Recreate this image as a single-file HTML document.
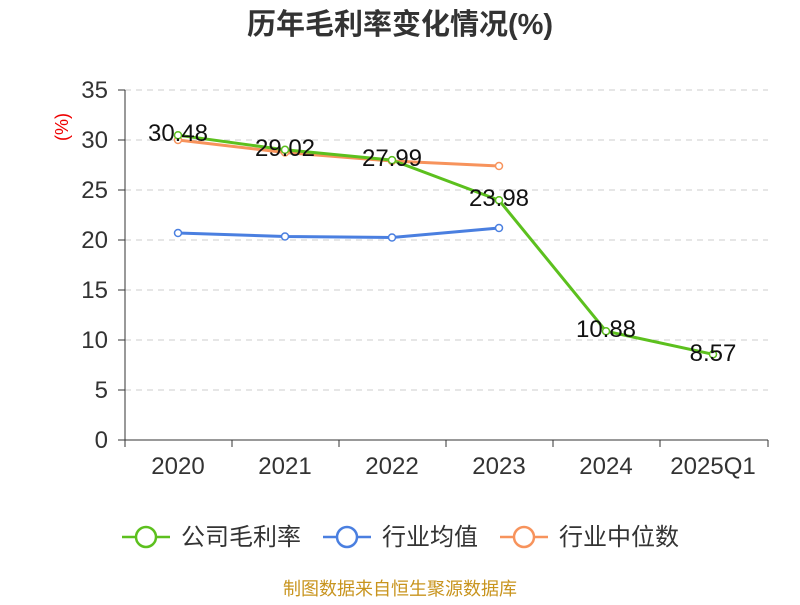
<!DOCTYPE html>
<html><head><meta charset="utf-8"><style>
body{margin:0;background:#fff;}
svg text{font-family:"Liberation Sans","Noto Sans CJK SC",sans-serif;}
</style></head><body>
<svg width="800" height="600" xmlns="http://www.w3.org/2000/svg">
<text x="400" y="34" text-anchor="middle" font-size="29" font-weight="bold" fill="#333">历年毛利率变化情况(%)</text>
<text x="68" y="127" font-size="18" fill="#e00" transform="rotate(-90 68 127)" text-anchor="middle">(%)</text>
<g stroke="#ccc" stroke-dasharray="6,5" stroke-width="1">
<line x1="125" y1="90" x2="768" y2="90"/><line x1="125" y1="140" x2="768" y2="140"/>
<line x1="125" y1="190" x2="768" y2="190"/><line x1="125" y1="240" x2="768" y2="240"/>
<line x1="125" y1="290" x2="768" y2="290"/><line x1="125" y1="340" x2="768" y2="340"/>
<line x1="125" y1="390" x2="768" y2="390"/>
</g>
<g stroke="#333" stroke-width="1">
<line x1="125" y1="90" x2="125" y2="440"/>
<line x1="125" y1="440" x2="768" y2="440"/>
<line x1="118" y1="90" x2="125" y2="90"/><line x1="118" y1="140" x2="125" y2="140"/>
<line x1="118" y1="190" x2="125" y2="190"/><line x1="118" y1="240" x2="125" y2="240"/>
<line x1="118" y1="290" x2="125" y2="290"/><line x1="118" y1="340" x2="125" y2="340"/>
<line x1="118" y1="390" x2="125" y2="390"/><line x1="118" y1="440" x2="125" y2="440"/>
<line x1="125" y1="440" x2="125" y2="447"/><line x1="232" y1="440" x2="232" y2="447"/>
<line x1="339" y1="440" x2="339" y2="447"/><line x1="446" y1="440" x2="446" y2="447"/>
<line x1="553" y1="440" x2="553" y2="447"/><line x1="660" y1="440" x2="660" y2="447"/>
<line x1="768" y1="440" x2="768" y2="447"/>
</g>
<g font-size="24" fill="#333" text-anchor="end">
<text x="108" y="98">35</text><text x="108" y="148">30</text><text x="108" y="198">25</text>
<text x="108" y="248">20</text><text x="108" y="298">15</text><text x="108" y="348">10</text>
<text x="108" y="398">5</text><text x="108" y="448">0</text>
</g>
<g font-size="24" fill="#333" text-anchor="middle">
<text x="178" y="474">2020</text><text x="285" y="474">2021</text><text x="392" y="474">2022</text>
<text x="499" y="474">2023</text><text x="606" y="474">2024</text><text x="713" y="474">2025Q1</text>
</g>
<polyline fill="none" stroke="#4a7fe0" stroke-width="3" points="178,233 285,236.5 392,237.5 499,228"/>
<polyline fill="none" stroke="#f7935c" stroke-width="3" points="178,140 285,152.5 392,161 499,166"/>
<polyline fill="none" stroke="#5cc01e" stroke-width="3" points="178,135.2 285,149.8 392,160.1 499,200.2 606,331.2 713,354.3"/>
<g fill="#fff" stroke-width="1.5">
<g stroke="#4a7fe0"><circle cx="178" cy="233" r="3.5"/><circle cx="285" cy="236.5" r="3.5"/><circle cx="392" cy="237.5" r="3.5"/><circle cx="499" cy="228" r="3.5"/></g>
<g stroke="#f7935c"><circle cx="178" cy="140" r="3.5"/><circle cx="285" cy="152.5" r="3.5"/><circle cx="392" cy="161" r="3.5"/><circle cx="499" cy="166" r="3.5"/></g>
<g stroke="#5cc01e"><circle cx="178" cy="135.2" r="3.5"/><circle cx="285" cy="149.8" r="3.5"/><circle cx="392" cy="160.1" r="3.5"/><circle cx="499" cy="200.2" r="3.5"/><circle cx="606" cy="331.2" r="3.5"/><circle cx="713" cy="354.3" r="3.5"/></g>
</g>
<g font-size="24" fill="#111" text-anchor="middle">
<text x="178" y="141">30.48</text><text x="285" y="156">29.02</text><text x="392" y="166">27.99</text>
<text x="499" y="206">23.98</text><text x="606" y="337">10.88</text><text x="713" y="361">8.57</text>
</g>
<g stroke-width="2.5" fill="#fff">
<line x1="122" y1="537" x2="170" y2="537" stroke="#5cc01e"/><circle cx="146" cy="537" r="10" stroke="#5cc01e"/>
<line x1="323" y1="537" x2="371" y2="537" stroke="#4a7fe0"/><circle cx="347" cy="537" r="10" stroke="#4a7fe0"/>
<line x1="500" y1="537" x2="548" y2="537" stroke="#f7935c"/><circle cx="524" cy="537" r="10" stroke="#f7935c"/>
</g>
<g font-size="24" fill="#333">
<text x="181" y="545">公司毛利率</text><text x="382" y="545">行业均值</text><text x="559" y="545">行业中位数</text>
</g>
<text x="400" y="595" text-anchor="middle" font-size="18" fill="#c8941e">制图数据来自恒生聚源数据库</text>
</svg>
</body></html>
